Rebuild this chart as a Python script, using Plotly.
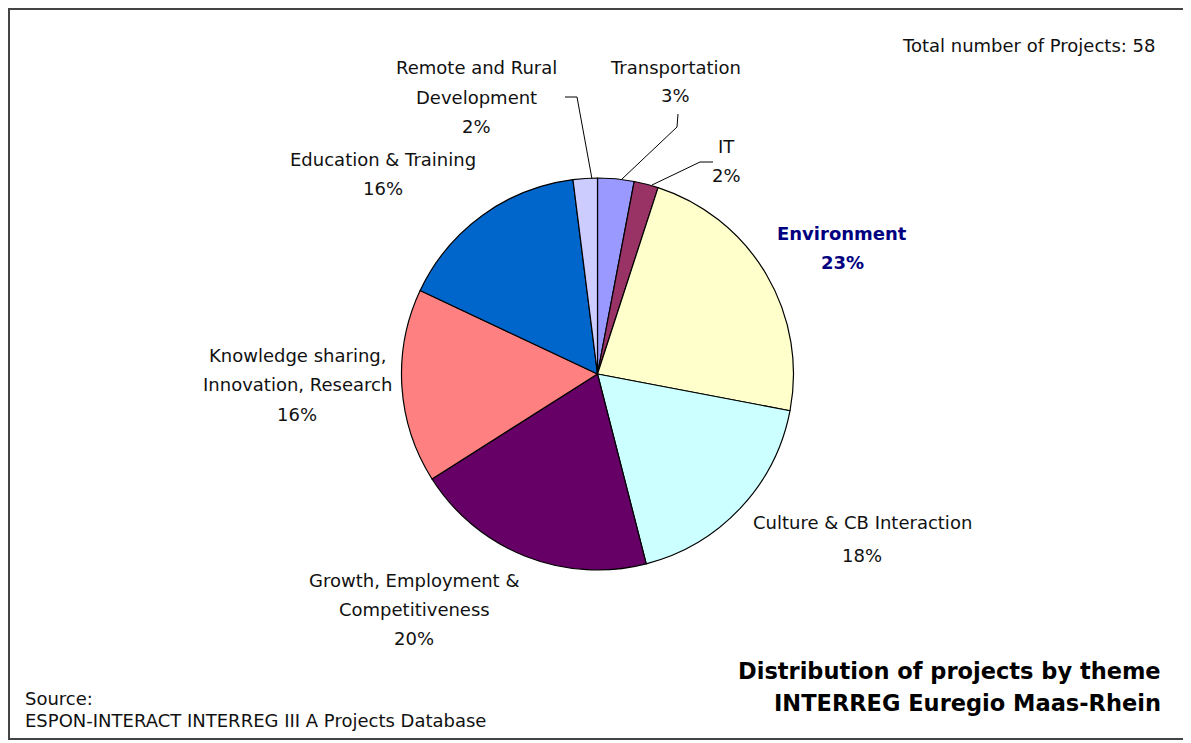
import plotly.graph_objects as go

# ---- data ----
themes = ["Transportation", "IT", "Environment", "Culture & CB Interaction",
          "Growth, Employment & Competitiveness",
          "Knowledge sharing, Innovation, Research",
          "Education & Training", "Remote and Rural Development"]
shares = [3, 2, 23, 18, 20, 16, 16, 2]
label_lines = [["Transportation"], ["IT"], ["Environment"], ["Culture & CB Interaction"],
               ["Growth, Employment &", "Competitiveness"],
               ["Knowledge sharing,", "Innovation, Research"],
               ["Education & Training"], ["Remote and Rural", "Development"]]
slice_colors = ["#9999FF", "#993366", "#FFFFCC", "#CCFFFF",
                "#660066", "#FF8080", "#0066CC", "#CCCCFF"]
total_projects = 58
title_lines = ["Distribution of projects by theme", "INTERREG Euregio Maas-Rhein"]
source_lines = ["Source:", "ESPON-INTERACT INTERREG III A Projects Database"]

# ---- layout helpers (page coords -> paper coords; page body has an 8px margin) ----
W, H = 1191, 743
OFF = 8
FW, FH = W - OFF, H - OFF
def px(x):
    return (x - OFF) / FW
def py(y):
    return 1 - (y - OFF) / FH

cx, cy, r = 597.5, 374, 196
fig = go.Figure(go.Pie(
    labels=themes, values=shares, sort=False, direction="clockwise", rotation=0,
    marker=dict(colors=slice_colors, line=dict(color="#000000", width=1.2)),
    textinfo="none", hoverinfo="label+percent", showlegend=False,
    domain=dict(x=[px(cx - r), px(cx + r)], y=[py(cy + r), py(cy - r)]),
))

# label placement (text anchor positions, first-line y, line spacing)
label_pos = [(676, 67, 29), (726, 146, 29), (842, 233, 30), (862, 522, 33),
             (414, 580, 29), (297, 355, 29.5), (383, 160, 28), (476, 67, 30)]
annotations = []
for i, (lines, v) in enumerate(zip(label_lines, shares)):
    x0, y0, sp = label_pos[i]
    all_lines = lines + [f"{v}%"]
    bold = themes[i] == "Environment"
    for j, t in enumerate(all_lines):
        annotations.append(dict(
            text=f"<b>{t}</b>" if bold else t,
            x=px(x0), y=py(y0 + j * sp), xref="paper", yref="paper",
            xanchor="center", yanchor="middle", showarrow=False,
            font=dict(family="DejaVu Sans", size=18,
                      color="#000080" if bold else "#111111")))

annotations.append(dict(text=f"Total number of Projects: {total_projects}",
                        x=px(1157), y=py(45), xref="paper", yref="paper",
                        xanchor="right", yanchor="middle", showarrow=False,
                        font=dict(family="DejaVu Sans", size=18, color="#111111")))
for j, t in enumerate(title_lines):
    annotations.append(dict(text=f"<b>{t}</b>", x=px(1163), y=py(671 + j * 32),
                            xref="paper", yref="paper", xanchor="right", yanchor="middle",
                            showarrow=False,
                            font=dict(family="DejaVu Sans", size=22.5, color="#000000")))
for j, t in enumerate(source_lines):
    annotations.append(dict(text=t, x=px(23), y=py(698 + j * 22),
                            xref="paper", yref="paper", xanchor="left", yanchor="middle",
                            showarrow=False,
                            font=dict(family="DejaVu Sans", size=18, color="#111111")))

# leader lines
leaders = [[(565, 97), (577, 97), (592, 179)],
           [(678, 114), (677, 127), (622, 179)],
           [(713, 162), (700, 162), (652, 185)]]
shapes = []
for pts in leaders:
    path = "M " + " L ".join(f"{px(x)},{py(y)}" for x, y in pts)
    shapes.append(dict(type="path", path=path, xref="paper", yref="paper",
                       line=dict(color="#000000", width=1)))
# outer frame
shapes.append(dict(type="rect", xref="paper", yref="paper",
                   x0=px(9), x1=px(1184), y0=py(739), y1=py(9),
                   line=dict(color="#444444", width=2)))

fig.update_layout(width=FW, height=FH, margin=dict(l=0, r=0, t=0, b=0),
                  paper_bgcolor="white", plot_bgcolor="white",
                  annotations=annotations, shapes=shapes)
fig.write_html("out.html")
